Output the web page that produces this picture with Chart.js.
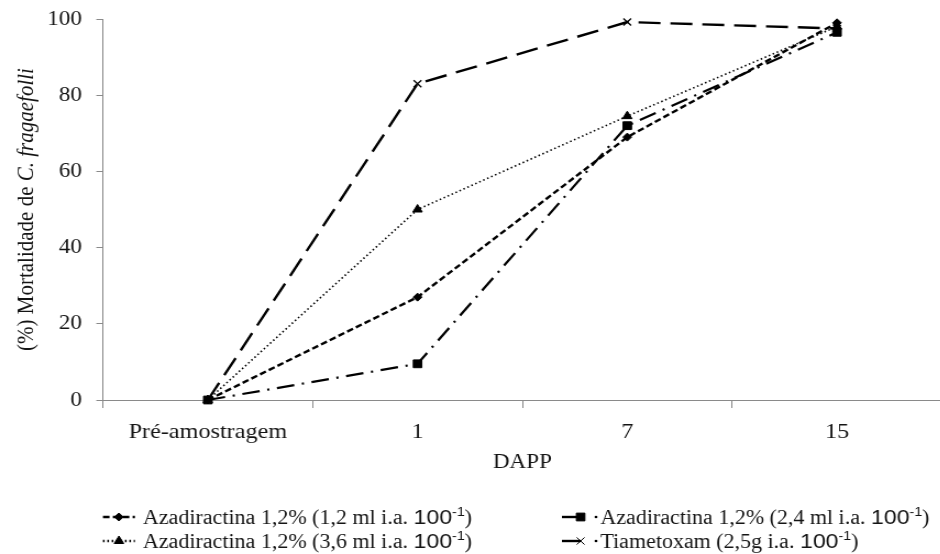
<!DOCTYPE html>
<html><head><meta charset="utf-8">
<script src="https://cdn.jsdelivr.net/npm/chart.js@4"></script>
<style>
html,body{margin:0;padding:0;background:#fff;overflow:hidden;width:940px;height:554px;}
</style></head><body>
<canvas id="c" width="863" height="554" style="display:block;width:949px;height:554px;"></canvas>
<script>
// ---- data ----
const categories = ['Pré-amostragem', '1', '7', '15'];
const azad12 = [0, 27, 69, 99];
const azad24 = [0, 9.5, 72, 96.5];
const azad36 = [0, 50, 74.5, 98];
const tiametoxam = [0, 83, 99.2, 97.5];
const seriesLabels = [
  'Azadiractina 1,2% (1,2 ml i.a. 100-1)',
  'Azadiractina 1,2% (2,4 ml i.a. 100-1)',
  'Azadiractina 1,2% (3,6 ml i.a. 100-1)',
  'Tiametoxam (2,5g i.a. 100-1)'
];
const yTitleParts = ['(%) Mortalidade de ', 'C. fragaefolli'];
const xTitle = 'DAPP';

const SERIF = '"Liberation Serif", "Times New Roman", serif';
const SANS = '"Liberation Sans", Arial, sans-serif';
const TXT = '#141414';
const AXIS = '#8a8a8a';

const yTitlePlugin = {
  id: 'yTitle',
  afterDraw(chart) {
    const ctx = chart.ctx;
    const ca = chart.chartArea;
    ctx.save();
    ctx.translate(24, (ca.top + ca.bottom) / 2);
    ctx.rotate(-Math.PI / 2);
    ctx.fillStyle = TXT;
    ctx.textBaseline = 'middle';
    const f1 = '21px ' + SERIF, f2 = 'italic 21px ' + SERIF;
    ctx.font = f1; const w1 = ctx.measureText(yTitleParts[0]).width;
    ctx.font = f2; const w2 = ctx.measureText(yTitleParts[1]).width;
    let x = -(w1 + w2) / 2;
    ctx.textAlign = 'left';
    ctx.font = f1; ctx.fillText(yTitleParts[0], x, 0);
    ctx.font = f2; ctx.fillText(yTitleParts[1], x + w1, 0);
    ctx.restore();
  }
};

function drawRich(ctx, text, x, y) {
  const m = text.match(/^(.*)(100)(-1)(\))$/);
  ctx.textBaseline = 'alphabetic';
  ctx.textAlign = 'left';
  ctx.fillStyle = TXT;
  const base = y + 7;
  if (!m) { ctx.font = '20px ' + SERIF; ctx.fillText(text, x, base); return; }
  ctx.font = '20px ' + SERIF; ctx.fillText(m[1], x, base); x += ctx.measureText(m[1]).width;
  ctx.font = '21px ' + SANS; ctx.fillText(m[2], x, base); x += ctx.measureText(m[2]).width;
  ctx.font = '13px ' + SANS; ctx.fillText(m[3], x, base - 8); x += ctx.measureText(m[3]).width;
  ctx.font = '20px ' + SERIF; ctx.fillText(m[4], x, base);
}

const legendPlugin = {
  id: 'customLegend',
  afterDraw(chart) {
    const ctx = chart.ctx;
    chart.data.datasets.forEach((ds, i) => {
      const col = i % 2, row = Math.floor(i / 2);
      const y = row ? 541 : 517;
      ctx.save();
      ctx.strokeStyle = '#000';
      ctx.fillStyle = '#000';
      ctx.lineWidth = 2.4;
      let tx;
      if (col === 0) {
        const x0 = 93.6, x1 = 122.7;
        ctx.setLineDash(ds.borderDash || []);
        ctx.beginPath(); ctx.moveTo(x0, y); ctx.lineTo(x1, y); ctx.stroke();
        ctx.setLineDash([]);
        ctx.lineWidth = 1;
        Chart.helpers.drawPoint(ctx, {pointStyle: ds.pointStyle, radius: ds.pointRadius, borderWidth: 1, rotation: 0}, (x0 + x1) / 2, y);
        tx = 130;
      } else {
        const x0 = 511, x1 = 528;
        ctx.beginPath(); ctx.moveTo(x0, y); ctx.lineTo(x1, y); ctx.stroke();
        ctx.lineWidth = 1;
        Chart.helpers.drawPoint(ctx, {pointStyle: ds.pointStyle, radius: ds.pointRadius, borderWidth: ds.pointBorderWidth || 1, rotation: 0}, x1, y);
        ctx.beginPath(); ctx.arc(542, y, 1.3, 0, Math.PI * 2); ctx.fill();
        tx = 546;
      }
      drawRich(ctx, seriesLabels[i], tx, y);
      ctx.restore();
    });
  }
};

const common = {borderColor: '#000', backgroundColor: '#000', pointBackgroundColor: '#000', pointBorderColor: '#000', tension: 0, clip: false, fill: false};

new Chart(document.getElementById('c'), {
  type: 'line',
  data: {
    labels: categories,
    datasets: [
      Object.assign({label: seriesLabels[0], data: azad12, borderWidth: 2.4, borderDash: [6, 3], pointStyle: 'rectRot', pointRadius: 4, pointBorderWidth: 1}, common),
      Object.assign({label: seriesLabels[1], data: azad24, borderWidth: 2.2, borderDash: [16, 7, 2, 7], pointStyle: 'rect', pointRadius: 5.5, pointBorderWidth: 1}, common),
      Object.assign({label: seriesLabels[2], data: azad36, borderWidth: 1.6, borderDash: [1.5, 2.5], pointStyle: 'triangle', pointRadius: 5, pointBorderWidth: 1}, common),
      Object.assign({label: seriesLabels[3], data: tiametoxam, borderWidth: 2.4, borderDash: [20, 9], pointStyle: 'crossRot', pointRadius: 5, pointBorderWidth: 1.3}, common)
    ]
  },
  options: {
    responsive: false,
    animation: false,
    devicePixelRatio: 1,
    layout: {padding: {top: 19, bottom: 74, left: 0, right: 0}},
    plugins: {legend: {display: false}, tooltip: {enabled: false}},
    scales: {
      x: {
        type: 'category', offset: true,
        grid: {display: true, offset: true, drawOnChartArea: false, drawTicks: true, tickLength: 8, color: AXIS, lineWidth: 1},
        border: {display: true, color: AXIS, width: 1},
        ticks: {color: TXT, font: {family: SERIF, size: 22}, padding: 11, maxRotation: 0, autoSkip: false},
        title: {display: true, text: xTitle, color: TXT, font: {family: SERIF, size: 21}, padding: {top: 0, bottom: 5}},
        afterFit(s) { s.height = 80; s.paddingLeft = 0; s.paddingRight = 0; }
      },
      y: {
        min: 0, max: 100,
        ticks: {stepSize: 20, color: TXT, font: {family: SERIF, size: 21}, padding: 13},
        grid: {drawOnChartArea: false, drawTicks: true, tickLength: 6, color: AXIS},
        border: {display: true, color: AXIS, width: 1},
        afterFit(s) { s.width = 93.6; s.paddingTop = 0; s.paddingBottom = 0; }
      }
    }
  },
  plugins: [yTitlePlugin, legendPlugin]
});
</script></body></html>
